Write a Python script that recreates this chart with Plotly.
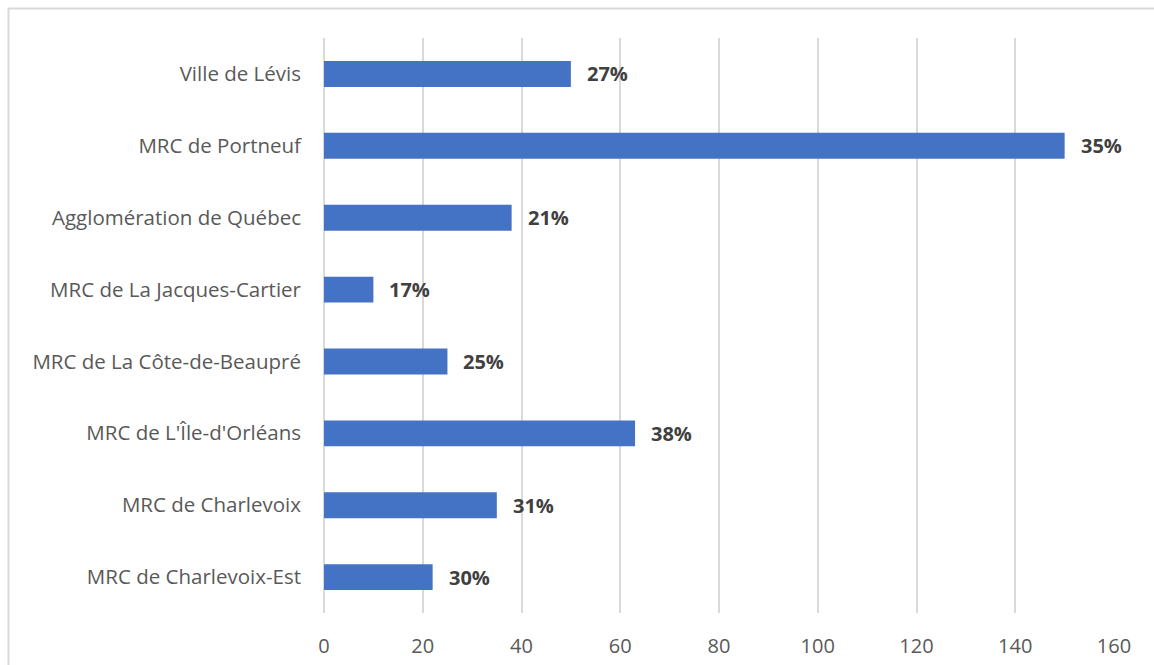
import plotly.graph_objects as go

categories = ["Ville de Lévis", "MRC de Portneuf", "Agglomération de Québec",
              "MRC de La Jacques-Cartier", "MRC de La Côte-de-Beaupré",
              "MRC de L'Île-d'Orléans", "MRC de Charlevoix", "MRC de Charlevoix-Est"]
values = [50, 150, 38, 10, 25, 63, 35, 22]
labels = ["27%", "35%", "21%", "17%", "25%", "38%", "31%", "30%"]
x_ticks = [0, 20, 40, 60, 80, 100, 120, 140, 160]

FONT = "Open Sans"
fig = go.Figure()
fig.add_trace(go.Bar(
    y=categories, x=values, orientation="h",
    marker=dict(color="#4472C4", line=dict(width=0)),
    hoverinfo="skip",
))
for c, v, t in zip(categories, values, labels):
    fig.add_annotation(x=v, y=c, text="<b>" + t + "</b>", showarrow=False,
                       xanchor="left", xshift=14,
                       font=dict(family=FONT, size=20, color="#404040"))

L, R, T, B = 324, 40, 38, 52
W, H = 1154, 665
pw, ph = W - L - R, H - T - B
fig.add_shape(type="rect", xref="paper", yref="paper",
              x0=(8.5 - L) / pw, x1=(1160 - L) / pw,
              y0=(H - B - 670) / ph, y1=(H - B - 8.5) / ph,
              line=dict(color="#d9d9d9", width=2), layer="below")

fig.update_layout(
    width=W, height=H,
    margin=dict(l=L, r=R, t=T, b=B),
    plot_bgcolor="white", paper_bgcolor="white",
    bargap=0.64, showlegend=False,
    font=dict(family=FONT, size=20, color="#595959"),
    xaxis=dict(range=[0, 160], tickvals=x_ticks, showgrid=True,
               gridcolor="#d9d9d9", gridwidth=1.5, zeroline=True,
               zerolinecolor="#d9d9d9", zerolinewidth=1.5, showline=False,
               ticks="", ticklabelstandoff=19, fixedrange=True, automargin=False,
               tickfont=dict(family=FONT, size=20, color="#595959")),
    yaxis=dict(categoryorder="array", categoryarray=categories[::-1],
               showgrid=False, ticks="", ticklabelstandoff=22, showline=False,
               automargin=False,
               tickfont=dict(family=FONT, size=20.5, color="#595959")),
)
fig.write_html("out.html")
